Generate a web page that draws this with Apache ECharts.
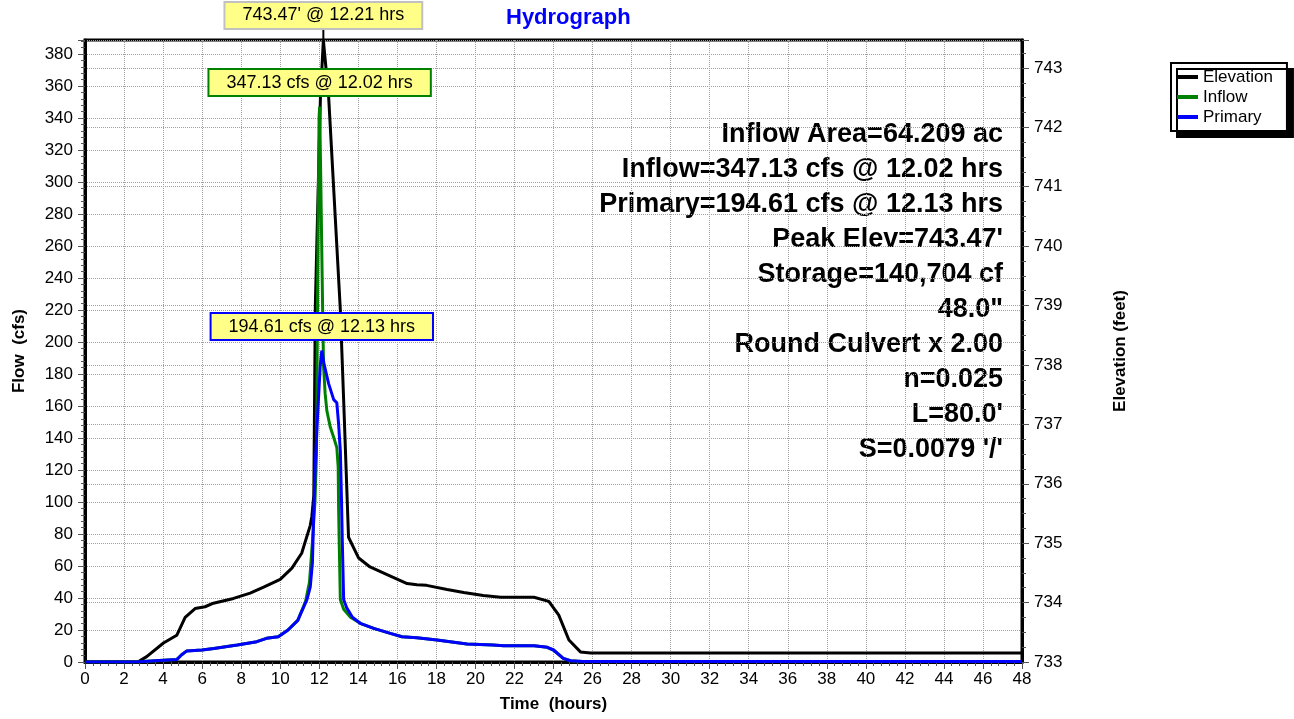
<!DOCTYPE html>
<html>
<head>
<meta charset="utf-8">
<script src="https://cdn.jsdelivr.net/npm/echarts/dist/echarts.min.js"></script>
<style>
  html, body { margin: 0; padding: 0; background: #fff; }
  #main { width: 1294px; height: 719px; }
</style>
</head>
<body>
<div id="main"></div>
<script>
// hours / feet
const elevTime = [0, 2.7, 3.16, 4.02, 4.7, 5.13, 5.64, 6.15, 6.58, 7.61, 8.46, 9.15, 10.0, 10.6, 11.1, 11.54, 11.62, 11.72, 11.8, 12.06, 12.21, 12.48, 13.08, 13.25, 13.5, 14.02, 14.6, 15.56, 16.5, 17.0, 17.5, 18.55, 19.4, 20.4, 21.3, 23.0, 23.76, 24.27, 24.79, 25.38, 25.9, 48];
const elevValue = [733.0, 733.0, 733.09, 733.32, 733.45, 733.75, 733.9, 733.93, 733.99, 734.07, 734.16, 734.26, 734.39, 734.58, 734.83, 735.3, 735.45, 735.8, 739.0, 742.5, 743.47, 742.52, 738.93, 737.41, 735.1, 734.75, 734.6, 734.46, 734.32, 734.3, 734.29, 734.22, 734.17, 734.12, 734.09, 734.09, 734.02, 733.79, 733.37, 733.17, 733.15, 733.15];

// hours / cfs
const inflowTime = [0, 2.6, 3.6, 4.7, 4.95, 5.2, 6.0, 6.6, 7.8, 8.8, 9.3, 9.9, 10.4, 10.9, 11.3, 11.5, 11.65, 11.78, 11.86, 11.92, 11.99, 12.02, 12.08, 12.13, 12.18, 12.22, 12.3, 12.39, 12.56, 12.75, 12.9, 12.97, 12.99, 13.03, 13.08, 13.25, 13.6, 14.1, 14.79, 15.64, 16.24, 17.0, 18.03, 19.57, 20.9, 21.45, 23.0, 23.68, 24.0, 24.5, 24.87, 25.5, 48];
const inflowValue = [0, 0, 0.8, 1.5, 4.5, 6.8, 7.5, 8.5, 10.6, 12.7, 14.8, 15.8, 20, 26, 38, 50, 75, 100, 130, 240, 340, 347.13, 300, 257, 215, 185, 168, 157, 147, 140, 134, 122, 97, 70, 39, 33, 28, 24.2, 21, 17.9, 15.8, 15.2, 13.75, 11.25, 10.6, 10.2, 10.2, 9.2, 7.5, 2.3, 0.8, 0.3, 0.3];

const primaryTime = [0, 2.6, 3.6, 4.7, 4.95, 5.2, 6.0, 6.6, 7.8, 8.8, 9.3, 9.9, 10.4, 10.9, 11.37, 11.54, 11.65, 11.71, 11.79, 11.91, 12.05, 12.13, 12.25, 12.48, 12.74, 12.9, 12.99, 13.08, 13.14, 13.18, 13.25, 13.4, 13.7, 14.1, 14.79, 15.64, 16.24, 17.0, 18.03, 19.57, 20.9, 21.45, 23.0, 23.68, 24.0, 24.5, 24.87, 25.5, 48];
const primaryValue = [0, 0, 0.8, 1.5, 4.5, 6.8, 7.5, 8.5, 10.6, 12.7, 14.8, 15.8, 20, 26, 39, 47, 62, 90, 122, 153, 185, 194.61, 186, 174, 164, 162, 149, 132, 101, 76, 39, 34, 28, 24.2, 21, 17.9, 15.8, 15.2, 13.75, 11.25, 10.6, 10.2, 10.2, 9.2, 7.5, 2.3, 0.8, 0.3, 0.3];

const seriesNames = ['Elevation', 'Inflow', 'Primary'];
const seriesColors = ['#000000', '#008000', '#0000ff'];

const elevPeak = [12.21, 743.47];
const inflowPeak = [12.02, 347.13];
const primaryPeak = [12.13, 194.61];

const infoLines = [
  'Inflow Area=64.209 ac',
  'Inflow=347.13 cfs @ 12.02 hrs',
  'Primary=194.61 cfs @ 12.13 hrs',
  'Peak Elev=743.47\'',
  'Storage=140,704 cf',
  '48.0"',
  'Round Culvert x 2.00',
  'n=0.025',
  'L=80.0\'',
  'S=0.0079 \'/\''
];

const FONT = '"Liberation Sans", Arial, sans-serif';

function pairs(xs, ys) {
  return xs.map((x, i) => [x, ys[i]]);
}

function peakLabel(text, border) {
  return {
    show: true,
    position: 'top',
    formatter: text,
    backgroundColor: '#ffff88',
    borderColor: border,
    borderWidth: 2,
    padding: [3, 17],
    fontSize: 18,
    lineHeight: 19,
    color: '#000',
    fontFamily: FONT
  };
}

const chart = echarts.init(document.getElementById('main'));

const option = {
  backgroundColor: '#fff',
  animation: false,
  textStyle: { fontFamily: FONT },
  title: {
    text: 'Hydrograph',
    left: 506,
    top: 7,
    padding: 0,
    textStyle: { color: '#0000ff', fontSize: 22, fontWeight: 'bold', fontFamily: FONT }
  },
  legend: {
    orient: 'vertical',
    left: 1171,
    top: 63,
    data: seriesNames,
    icon: 'rect',
    itemWidth: 21,
    itemHeight: 4,
    itemGap: 0,
    padding: [4, 14, 4, 6],
    backgroundColor: '#fff',
    borderColor: '#000',
    borderWidth: 2,
    shadowColor: '#000',
    shadowOffsetX: 6,
    shadowOffsetY: 6,
    shadowBlur: 0,
    textStyle: { fontSize: 17, color: '#000', lineHeight: 20, fontFamily: FONT }
  },
  grid: {
    left: 85,
    right: 272,
    top: 40,
    bottom: 57,
    containLabel: false,
    outerBoundsMode: 'none',
    show: true,
    backgroundColor: '#fff',
    borderColor: '#000',
    borderWidth: 3
  },
  xAxis: {
    type: 'value',
    min: 0,
    max: 48,
    interval: 2,
    name: 'Time  (hours)',
    nameLocation: 'middle',
    nameGap: 34,
    nameTextStyle: { fontSize: 17, fontWeight: 'bold', color: '#000' },
    axisLine: { show: true, lineStyle: { color: '#000', width: 3 } },
    axisTick: { show: true, length: 7, lineStyle: { color: '#555' } },
    minorTick: { show: true, splitNumber: 5, length: 4, lineStyle: { color: '#555' } },
    axisLabel: { fontSize: 17, color: '#000', margin: 9 },
    splitLine: { show: true, lineStyle: { color: '#a0a0a0', type: 'dotted', width: 1 } }
  },
  yAxis: [
    {
      type: 'value',
      position: 'left',
      min: 0,
      max: 388.75,
      interval: 20,
      name: 'Flow  (cfs)',
      nameLocation: 'middle',
      nameGap: 57,
      nameTextStyle: { fontSize: 17, fontWeight: 'bold', color: '#000' },
      axisLine: { show: true, lineStyle: { color: '#000', width: 3 } },
      axisTick: { show: true, length: 7, lineStyle: { color: '#555' } },
      minorTick: { show: true, splitNumber: 5, length: 4, lineStyle: { color: '#555' } },
      axisLabel: { showMaxLabel: false, fontSize: 17, color: '#000', margin: 12 },
      splitLine: { show: true, lineStyle: { color: '#a0a0a0', type: 'dotted', width: 1 } }
    },
    {
      type: 'value',
      position: 'right',
      min: 733,
      max: 743.47,
      interval: 1,
      name: 'Elevation (feet)',
      nameLocation: 'middle',
      nameGap: 90,
      nameTextStyle: { fontSize: 17, fontWeight: 'bold', color: '#000' },
      axisLine: { show: true, lineStyle: { color: '#000', width: 3 } },
      axisTick: { show: true, length: 7, lineStyle: { color: '#555' } },
      minorTick: { show: true, splitNumber: 4, length: 4, lineStyle: { color: '#555' } },
      axisLabel: { showMaxLabel: false, fontSize: 17, color: '#000', margin: 12 },
      splitLine: { show: true, lineStyle: { color: '#a0a0a0', type: 'dotted', width: 1 } }
    }
  ],
  // one right-aligned text per line, 35px apart
  graphic: infoLines.map((line, i) => ({
    type: 'text',
    right: 291,
    top: 121 + i * 35,
    style: {
      text: line,
      font: 'bold 27px ' + FONT,
      fill: '#000'
    }
  })),
  series: [
    {
      name: seriesNames[0],
      type: 'line',
      yAxisIndex: 1,
      showSymbol: false,
      color: seriesColors[0],
      lineStyle: { width: 3, color: seriesColors[0] },
      data: pairs(elevTime, elevValue),
      markPoint: {
        symbol: 'rect',
        symbolSize: [2, 12],
        symbolOffset: [0, -6],
        itemStyle: { color: '#000' },
        label: Object.assign(peakLabel(elevPeak[1] + "' @ " + elevPeak[0] + ' hrs', '#c0c0c0'), { distance: 0 }),
        data: [{ coord: elevPeak }]
      }
    },
    {
      name: seriesNames[1],
      type: 'line',
      yAxisIndex: 0,
      showSymbol: false,
      color: seriesColors[1],
      lineStyle: { width: 3, color: seriesColors[1] },
      data: pairs(inflowTime, inflowValue),
      markPoint: {
        symbol: 'circle',
        symbolSize: 1,
        itemStyle: { color: 'rgba(0,0,0,0)' },
        label: Object.assign(peakLabel(inflowPeak[1] + ' cfs @ ' + inflowPeak[0].toFixed(2) + ' hrs', '#008000'), { distance: 11 }),
        data: [{ coord: inflowPeak }]
      }
    },
    {
      name: seriesNames[2],
      type: 'line',
      yAxisIndex: 0,
      showSymbol: false,
      color: seriesColors[2],
      lineStyle: { width: 3, color: seriesColors[2] },
      data: pairs(primaryTime, primaryValue),
      markPoint: {
        symbol: 'circle',
        symbolSize: 1,
        itemStyle: { color: 'rgba(0,0,0,0)' },
        label: Object.assign(peakLabel(primaryPeak[1] + ' cfs @ ' + primaryPeak[0] + ' hrs', '#0000ff'), { distance: 11 }),
        data: [{ coord: primaryPeak }]
      }
    }
  ]
};

chart.setOption(option);
</script>
</body>
</html>
